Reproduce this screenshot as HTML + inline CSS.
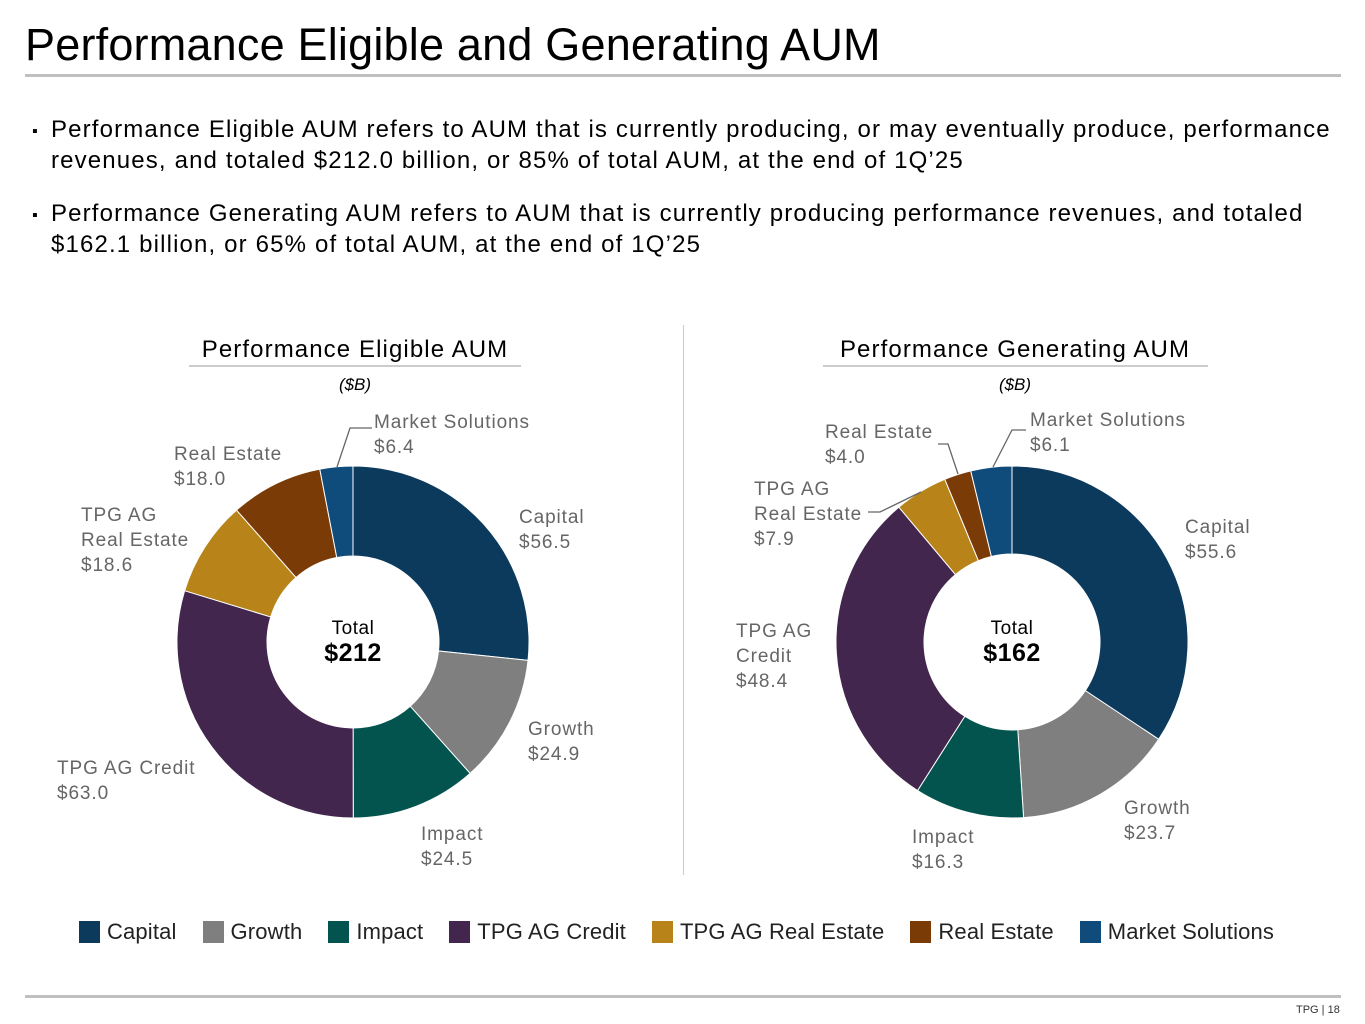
<!DOCTYPE html>
<html><head><meta charset="utf-8"><style>
body{margin:0;width:1365px;height:1024px;background:#fff;font-family:"Liberation Sans",sans-serif;position:relative;overflow:hidden}
.abs{position:absolute}
.title{left:25px;top:19px;font-size:45px;color:#000;white-space:nowrap;letter-spacing:0.2px}
.bul{left:32px;font-size:24px;line-height:31px;color:#000;width:1330px;letter-spacing:1.15px;white-space:nowrap}
.bul span.b{position:absolute;left:0;font-size:16px}
.bul div{margin-left:19px}
.leg{top:919px;font-size:22px;color:#222;display:flex;align-items:center;white-space:nowrap;letter-spacing:0.15px}
.leg i{display:inline-block;width:21px;height:22px;margin-right:7px}
</style></head><body>
<div class="abs title">Performance Eligible and Generating AUM</div>
<div class="abs" style="left:25px;top:74px;width:1316px;height:3px;background:#c0c0c0"></div>
<div class="abs bul" style="top:114px"><span class="b" style="top:2px">▪</span><div>Performance Eligible AUM refers to AUM that is currently producing, or may eventually produce, performance<br>revenues, and totaled $212.0 billion, or 85% of total AUM, at the end of 1Q’25</div></div>
<div class="abs bul" style="top:198px"><span class="b" style="top:2px">▪</span><div>Performance Generating AUM refers to AUM that is currently producing performance revenues, and totaled<br>$162.1 billion, or 65% of total AUM, at the end of 1Q’25</div></div>
<div class="abs" style="left:683px;top:325px;width:1px;height:550px;background:#ccc"></div>

<svg class="abs" style="left:0;top:0" width="1365" height="1024" id="charts"></svg>

<div class="abs" style="left:25px;top:995px;width:1316px;height:3px;background:#c0c0c0"></div>
<div class="abs" style="left:1296px;top:1004px;font-size:11px;color:#333">TPG | 18</div>

<div class="abs leg" style="left:79px" id="legend"></div>

<script>
const categories=["Capital","Growth","Impact","TPG AG Credit","TPG AG Real Estate","Real Estate","Market Solutions"];
const eligibleValues=[56.5,24.9,24.5,63.0,18.6,18.0,6.4];
const generatingValues=[55.6,23.7,16.3,48.4,7.9,4.0,6.1];
const eligibleTotal="$212";
const generatingTotal="$162";
const colors=["#0b3a5d","#7f7f7f","#03544f","#42264e","#b8841a","#7a3b07","#0f4c7c"];
const NS="http://www.w3.org/2000/svg";
const svg=document.getElementById('charts');
function el(t,a){const e=document.createElementNS(NS,t);for(const k in a)e.setAttribute(k,a[k]);svg.appendChild(e);return e;}
function txt(x,y,s,opt){const e=el('text',{x:x,y:y,'font-family':'Liberation Sans, sans-serif','font-size':opt.size,fill:opt.fill||'#000','text-anchor':opt.anchor||'start'});if(opt.ls)e.setAttribute('letter-spacing',opt.ls);if(opt.bold)e.setAttribute('font-weight','bold');if(opt.italic)e.setAttribute('font-style','italic');e.textContent=s;return e;}
function pt(cx,cy,r,a){return [cx+r*Math.sin(a),cy-r*Math.cos(a)];}
function donut(key,cx,cy,R,r,vals,title,tx,ux0,ux1,total,labels){
  const t=txt(tx,357,title,{size:24,anchor:'middle',ls:1.1});
  
  const u=el('line',{x1:ux0,x2:ux1,y1:366,y2:366,stroke:'#ccc','stroke-width':2});
  
  const b=txt(tx,390,'($B)',{size:17,anchor:'middle',italic:true});
  
  const sum=vals.reduce((a,b)=>a+b,0);let a0=0;
  vals.forEach((v,i)=>{const a1=a0+v/sum*2*Math.PI;const big=(a1-a0)>Math.PI?1:0;
    const p0=pt(cx,cy,R,a0),p1=pt(cx,cy,R,a1),q1=pt(cx,cy,r,a1),q0=pt(cx,cy,r,a0);
    const p=el('path',{d:`M${p0}A${R},${R} 0 ${big} 1 ${p1}L${q1}A${r},${r} 0 ${big} 0 ${q0}Z`,fill:colors[i],stroke:'#fff','stroke-width':1});
    
    
    const lb=labels[i];const lines=lb.name.concat(['$'+v.toFixed(1)]);
    lines.forEach((s,j)=>{const e=txt(lb.x,lb.y+j*25,s,{size:19,fill:'#666',ls:0.9});
      
      });
    if(lb.lead){const l=el('polyline',{points:lb.lead,fill:'none',stroke:'#666','stroke-width':1.3});
      }
    a0=a1;});
  const c1=txt(cx,cy-8,'Total',{size:19,anchor:'middle',ls:0.5});
  
  const c2=txt(cx,cy+19,total,{size:25,anchor:'middle',bold:true,ls:0.5});
  
}
donut('eligible',353,642,176,86,eligibleValues,'Performance Eligible AUM',355,189,521,eligibleTotal,[
 {name:['Capital'],x:519,y:523},
 {name:['Growth'],x:528,y:735},
 {name:['Impact'],x:421,y:840},
 {name:['TPG AG Credit'],x:57,y:774},
 {name:['TPG AG','Real Estate'],x:81,y:521},
 {name:['Real Estate'],x:174,y:460},
 {name:['Market Solutions'],x:374,y:428,lead:'337,467 350,428 372,428'}]);
donut('generating',1012,642,176,88,generatingValues,'Performance Generating AUM',1015,823,1208,generatingTotal,[
 {name:['Capital'],x:1185,y:533},
 {name:['Growth'],x:1124,y:814},
 {name:['Impact'],x:912,y:843},
 {name:['TPG AG','Credit'],x:736,y:637},
 {name:['TPG AG','Real Estate'],x:754,y:495,lead:'921,492 880,512 868,512'},
 {name:['Real Estate'],x:825,y:438,lead:'958,474 948,444 938,444'},
 {name:['Market Solutions'],x:1030,y:426,lead:'993,467 1012,430 1026,430'}]);
const leg=document.getElementById('legend');
categories.forEach((c,i)=>{const s=document.createElement('span');s.style.marginRight='26px';s.style.display='flex';s.style.alignItems='center';
 
 
 const sw=document.createElement('i');sw.style.background=colors[i];s.appendChild(sw);
 s.appendChild(document.createTextNode(c));leg.appendChild(s);});
</script>
</body></html>
